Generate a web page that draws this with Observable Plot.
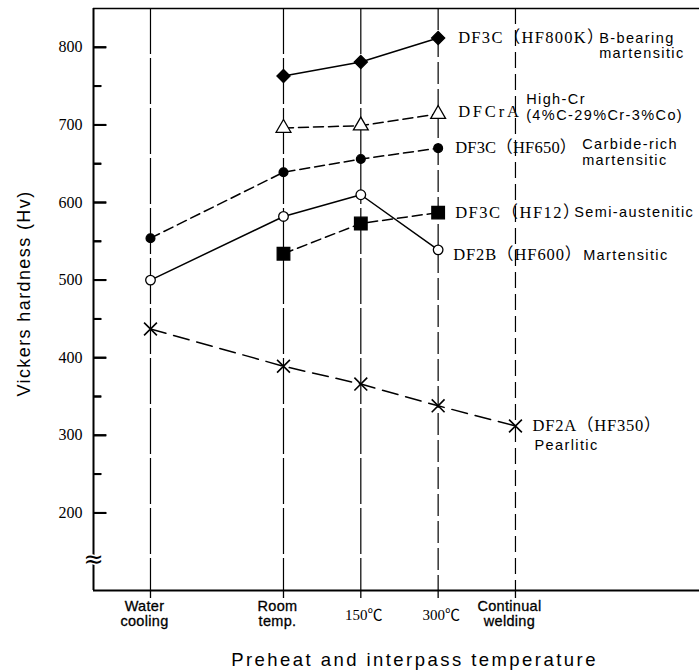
<!DOCTYPE html>
<html>
<head>
<meta charset="utf-8">
<script src="https://cdn.jsdelivr.net/npm/d3@7"></script>
<script src="https://cdn.jsdelivr.net/npm/@observablehq/plot@0.6"></script>
<style>
  html, body { margin: 0; padding: 0; background: #fff; }
</style>
</head>
<body>
<div id="chart"></div>
<script>
// ---- data ----
const categories = ["Water\ncooling", "Room\ntemp.", "150℃", "300℃", "Continual\nwelding"];
const categoryStep = [-1.72, 0, 1, 2, 3]; // position along the categorical axis (in category steps)

const hf800k = [null, 763, 781, 812, null];
const dfcra  = [null, 696, 699, 714, null];
const hf650  = [554, 639, 656, 670, null];
const hf600  = [500, 582, 610, 539, null];
const hf12   = [null, 534, 573, 587, null];
const hf350  = [437, 389, 366, 338, 312];

const seriesCodes = ["DF3C（HF800K）", "DFCrA", "DF3C（HF650）", "DF2B（HF600）", "DF3C（HF12）", "DF2A（HF350）"];
const seriesDescs = ["B-bearing\nmartensitic", "High-Cr\n(4%C-29%Cr-3%Co)", "Carbide-rich\nmartensitic", "Martensitic", "Semi-austenitic", "Pearlitic"];

const yMajor = [200, 300, 400, 500, 600, 700, 800];
const yMinor = [250, 350, 450, 550, 650, 750];
const yDomain = [100, 850];
const xDomain = [-2.457, 5.38];

// ---- layout / styles ----
const W = 699, H = 672, ML = 93, MR = 0, MT = 8, MB = 82;
const innerW = W - ML - MR;
const seriesValues = [hf800k, dfcra, hf650, hf600, hf12, hf350];
const styles = [
  {symbol: "diamond2", r: 5.9, fill: "black", dash: null,   cdx: 20, cdy: 0,  ddx: 161, ddy: 7.6, ls: 1.3},
  {symbol: "triangle", r: 5.5, fill: "white", dash: "10,5", cdx: 20, cdy: -2, ddx: 88,  ddy: -7,  ls: 2.8},
  {symbol: "circle",   r: 4.4, fill: "black", dash: "10,5", cdx: 17, cdy: 0,  ddx: 144, ddy: 4,   ls: 0.2},
  {symbol: "circle",   r: 4.8, fill: "white", dash: null,   cdx: 15, cdy: 5,  ddx: 145, ddy: 5,   ls: 0.9},
  {symbol: "square",   r: 7.1, fill: "black", dash: "10,5", cdx: 17, cdy: 0,  ddx: 136, ddy: 0,   ls: 1.5},
  {symbol: "times",    r: 5.9, fill: "none",  dash: "16,8", cdx: 17, cdy: 0,  ddx: 19,  ddy: 19,  ls: 0.8}
];

// custom inward tick symbols (horizontal stroke starting at the axis)
const tickSymbol = len => ({draw(ctx) { ctx.moveTo(0, 0); ctx.lineTo(len, 0); ctx.closePath(); }});

const rows = [];
seriesValues.forEach((vals, s) => {
  vals.forEach((v, i) => { if (v != null) rows.push({s, x: categoryStep[i], y: v}); });
});
const lastPoints = seriesValues.map((vals, s) => {
  let i = vals.length - 1; while (vals[i] == null) i--;
  return {s, x: categoryStep[i], y: vals[i], code: seriesCodes[s], desc: seriesDescs[s]};
});

const marks = [];
// vertical guide lines
marks.push(Plot.ruleX(categoryStep.slice(0, 3), {stroke: "black", strokeWidth: 1.2, strokeDasharray: "46,4"}));
marks.push(Plot.ruleX(categoryStep.slice(3, 4), {stroke: "black", strokeWidth: 1.2, strokeDasharray: "22,5"}));
marks.push(Plot.ruleX(categoryStep.slice(4, 5), {stroke: "black", strokeWidth: 1.2, strokeDasharray: "16,6"}));

// series lines and markers
styles.forEach((st, s) => {
  const d = rows.filter(r => r.s === s);
  marks.push(Plot.line(d, {x: "x", y: "y", stroke: "black", strokeWidth: 1.5, strokeDasharray: st.dash || undefined}));
});
styles.forEach((st, s) => {
  const d = rows.filter(r => r.s === s);
  marks.push(Plot.dot(d, {x: "x", y: "y", symbol: st.symbol, r: st.r,
    fill: st.fill, stroke: "black", strokeWidth: st.symbol === "times" ? 1.6 : 1.3}));
});

// series labels
lastPoints.forEach(p => {
  const st = styles[p.s];
  marks.push(Plot.text([p], {x: "x", y: "y", text: "code", textAnchor: "start", dx: st.cdx, dy: st.cdy,
    fontFamily: "'Liberation Serif', 'Noto Sans CJK JP', serif", fontSize: 16.5, lineAnchor: "middle"}));
  marks.push(Plot.text([p], {x: "x", y: "y", text: "desc", textAnchor: "start", dx: st.ddx, dy: st.ddy,
    fontFamily: "'Liberation Sans', sans-serif", fontSize: 14.5, lineAnchor: "middle", lineHeight: 1.05}));
});

// frame lines
marks.push(Plot.ruleY([yDomain[1]], {stroke: "black", strokeWidth: 1.6}));
marks.push(Plot.ruleY([yDomain[0]], {stroke: "black", strokeWidth: 2}));
marks.push(Plot.ruleX([xDomain[0]], {stroke: "black", strokeWidth: 2}));

// y axis ticks (inward) and labels
marks.push(Plot.tickY(yMajor, {y: d => d, stroke: "black", strokeWidth: 2, insetRight: innerW - 13}));
marks.push(Plot.tickY(yMinor, {y: d => d, stroke: "black", strokeWidth: 2, insetRight: innerW - 8}));
marks.push(Plot.dot(yMajor, {x: () => xDomain[0], y: d => d, symbol: tickSymbol(13), r: 5,
  fill: "none", stroke: "black", strokeWidth: 2}));
marks.push(Plot.dot(yMinor, {x: () => xDomain[0], y: d => d, symbol: tickSymbol(8), r: 5,
  fill: "none", stroke: "black", strokeWidth: 2}));
marks.push(Plot.axisY({ticks: yMajor, tickSize: 0, tickPadding: 11, label: null,
  fontFamily: "'Liberation Serif', serif", fontSize: 16}));

// x axis ticks and labels
marks.push(Plot.axisX({ticks: categoryStep, tickSize: 8, text: null, label: null, strokeWidth: 1.3}));
marks.push(Plot.text(categories.map((c, i) => ({c, x: categoryStep[i]})).filter(d => !d.c.includes("℃")),
  {x: "x", text: "c", frameAnchor: "bottom", dx: -6, dy: 23, textAnchor: "middle", lineAnchor: "middle", lineHeight: 1.02,
   fontFamily: "'Liberation Sans', sans-serif", fontSize: 14.5, fill: "black",
   stroke: "black", strokeWidth: 0.3}));
marks.push(Plot.text(categories.map((c, i) => ({c, x: categoryStep[i]})).filter(d => d.c.includes("℃")),
  {x: "x", text: "c", frameAnchor: "bottom", dy: 25, dx: 3, textAnchor: "middle", lineAnchor: "middle",
   fontFamily: "'Liberation Serif', 'Noto Sans CJK JP', serif", fontSize: 15}));

// axis break symbol
marks.push(Plot.text(["≈"], {x: xDomain[0], y: 140, text: d => d, fontSize: 24,
  fontFamily: "'DejaVu Sans', sans-serif", stroke: "white", strokeWidth: 3, paintOrder: "stroke", fill: "black",
  lineAnchor: "middle"}));

// axis titles
const yTitle = "Vickers hardness (Hv)";
const xTitle = "Preheat and interpass temperature";
marks.push(Plot.text([yTitle], {text: d => d, frameAnchor: "left", rotate: -90, dx: -69, dy: -6,
  textAnchor: "middle", lineAnchor: "middle",
  fontFamily: "'Liberation Sans', sans-serif", fontSize: 18}));
marks.push(Plot.text([xTitle], {text: d => d, frameAnchor: "bottom", dx: 18, dy: 70,
  textAnchor: "middle", lineAnchor: "middle",
  fontFamily: "'Liberation Sans', sans-serif", fontSize: 18.5}));

const chart = Plot.plot({
  width: W,
  height: H,
  marginLeft: ML,
  marginRight: MR,
  marginTop: MT,
  marginBottom: MB,
  x: {type: "linear", domain: xDomain, axis: null},
  y: {type: "linear", domain: yDomain, axis: null},
  style: {background: "white", color: "black", fontFamily: "'Liberation Sans', sans-serif", overflow: "visible"},
  marks
});

// letter spacing (not a Plot text option), applied to the rendered text by content
const spacing = new Map();
spacing.set(yTitle, 1.4);
spacing.set(xTitle, 2.45);
categories.filter(c => !c.includes("℃")).forEach(c => spacing.set(c.replace("\n", ""), 0.3));
seriesDescs.forEach(c => spacing.set(c.replace("\n", ""), 1.4));
seriesCodes.forEach((c, s) => spacing.set(c, styles[s].ls));
d3.select(chart).selectAll("text").each(function() {
  const v = spacing.get(this.textContent);
  if (v != null) this.style.letterSpacing = v + "px";
});
document.getElementById("chart").appendChild(chart);
</script>
</body>
</html>
